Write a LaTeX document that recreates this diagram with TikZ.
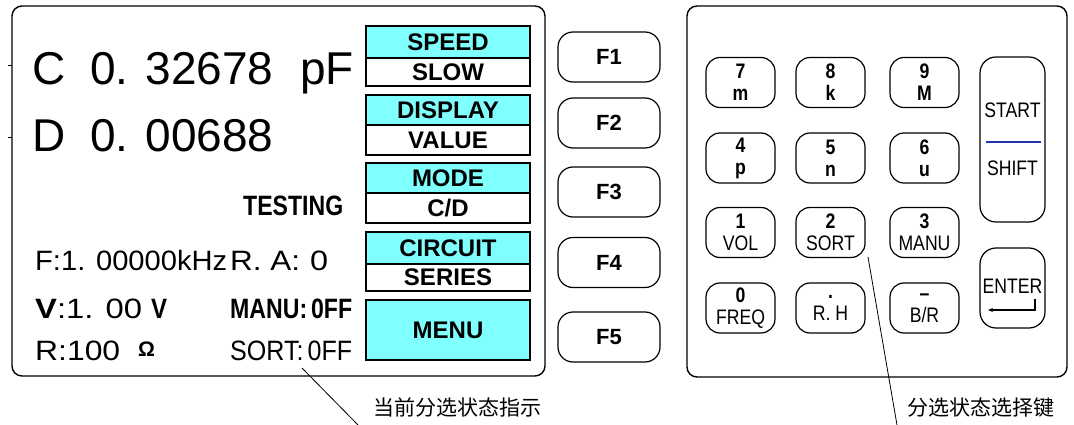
\documentclass[tikz,border=0pt]{standalone}
\usepackage{graphicx}
\usepackage{fontspec}
\setmainfont{Liberation Sans}
\newfontfamily\cjk{Noto Sans CJK SC}
\newfontfamily\lcdf[FakeStretch=0.84]{Liberation Sans}
\usetikzlibrary{arrows.meta}
\definecolor{lcd}{RGB}{128,255,255}
\definecolor{navy}{RGB}{40,50,170}
\newcommand\fw[2]{\resizebox{#1}{\height}{#2}}
\begin{document}
\begin{tikzpicture}[x=1pt,y=-1pt,
 panel/.style={draw, line width=1.4pt, rounded corners=10pt},
 fkey/.style={draw, line width=1.2pt, rounded corners=15pt, minimum width=102pt, minimum height=50pt, inner sep=0pt, font=\fontsize{22}{24}\selectfont\bfseries},
 nkey/.style={draw, line width=1.2pt, rounded corners=14pt, minimum width=69pt, minimum height=50pt, inner sep=0pt, align=center, font=\lcdf\fontsize{21}{22}\selectfont},
 hdr/.style={draw, line width=1.3pt, fill=lcd, minimum width=164pt, inner sep=0pt, font=\fontsize{24}{26}\selectfont\bfseries},
 val/.style={draw, line width=1.3pt, fill=white, minimum width=164pt, inner sep=0pt, font=\fontsize{24}{26}\selectfont\bfseries},
 lbl/.style={anchor=base west, inner sep=0pt},
 big/.style={lbl, font=\fontsize{46}{46}\selectfont},
 mid/.style={lbl, font=\fontsize{28}{28}\selectfont},
 lead/.style={line width=0.8pt},
 cn/.style={anchor=west, inner sep=0pt, font=\cjk\fontsize{21}{21}\selectfont}
]
\useasboundingbox (0,0) rectangle (1074,425);
% panels
\draw[panel] (12,6) rectangle (545,376);
\draw[panel] (687,6) rectangle (1067,377);
\draw[line width=0.8pt] (8,65) -- (12,65);
\draw[line width=0.8pt] (8,137) -- (12,137);
% main readings
\node[big] (cl) at (32,85) {C};
\node[big] (cv) at (90,85) {0. 32678};
\node[big] (cu) at (300,85) {pF};
\node[big] (dl) at (32,152) {D};
\node[big] (dv) at (90,152) {0. 00688};
% lower texts
\node[mid] (test) at (243,215) {\fw{100pt}{\bfseries TESTING}};
\node[mid] (freq) at (35,270) {\fw{192pt}{F:1. 00000kHz}};
\node[mid] (ra) at (230,270) {\fw{70pt}{R. A:}};
\node[mid] (raz) at (310,270) {\fw{18pt}{0}};
\node[mid] (volt) at (35,318) {\fw{107pt}{\textbf{V}:1. 00}};
\node[mid] (voltu) at (151,318) {\fw{16pt}{\bfseries V}};
\node[mid] (manu) at (230,318) {\fw{122pt}{\bfseries MANU:\,0FF}};
\node[mid] (rng) at (35,360) {\fw{85pt}{R:100}};
\node[lbl, font=\fontsize{21}{21}\selectfont\bfseries] (ohm) at (138,356) {Ω};
\node[mid] (sort) at (230,360) {\fw{122pt}{SORT:\,0FF}};
% soft key menu boxes
\node[hdr, minimum height=32pt] (speed) at (448,42) {SPEED};
\node[val, minimum height=28pt] (slow) at (448,72) {SLOW};
\node[hdr, minimum height=30pt] (disp) at (448,110) {DISPLAY};
\node[val, minimum height=30pt] (value) at (448,140) {VALUE};
\node[hdr, minimum height=30pt] (mode) at (448,178) {MODE};
\node[val, minimum height=30pt] (cd) at (448,208) {C/D};
\node[hdr, minimum height=32pt] (circ) at (448,248) {CIRCUIT};
\node[val, minimum height=27pt] (series) at (448,277.5) {SERIES};
\node[hdr, minimum height=60pt] (menu) at (448,330) {MENU};
% F keys
\node[fkey] (f1) at (609,57) {F1};
\node[fkey] (f2) at (609,123) {F2};
\node[fkey] (f3) at (609,192) {F3};
\node[fkey] (f4) at (609,262.5) {F4};
\node[fkey] (f5) at (609,337) {F5};
% keypad
\node[nkey] (k7) at (740.5,82.5) {\bfseries 7\\\bfseries m};
\node[nkey] (k8) at (830.5,82.5) {\bfseries 8\\\bfseries k};
\node[nkey] (k9) at (924.5,82.5) {\bfseries 9\\\bfseries M};
\node[nkey] (k4) at (740.5,158) {\bfseries 4\\\bfseries p};
\node[nkey] (k5) at (830.5,158) {\bfseries 5\\\bfseries n};
\node[nkey] (k6) at (924.5,158) {\bfseries 6\\\bfseries u};
\node[nkey] (k1) at (740.5,232.5) {\bfseries 1\\VOL};
\node[nkey] (k2) at (830.5,232.5) {\bfseries 2\\SORT};
\node[nkey] (k3) at (924.5,232.5) {\bfseries 3\\MANU};
\node[nkey] (k0) at (740.5,308) {\bfseries 0\\FREQ};
\node[nkey] (kdot) at (830.5,308) {\bfseries .\\R. H};
\node[nkey] (kneg) at (924.5,308) {\bfseries –\\B/R};
\node[draw, line width=1.2pt, rounded corners=16pt, minimum width=65pt, minimum height=165pt, inner sep=0pt] (start) at (1012.5,139.5) {};
\node[inner sep=0pt, font=\lcdf\fontsize{21}{21}\selectfont] (starttxt) at (1012.5,110) {START};
\node[inner sep=0pt, font=\lcdf\fontsize{21}{21}\selectfont] (shifttxt) at (1012.5,168) {SHIFT};
\draw[navy, line width=1.2pt] ([xshift=7pt]start.west |- 0,142) -- ([xshift=-5pt]start.east |- 0,142);
\node[draw, line width=1.2pt, rounded corners=16pt, minimum width=65pt, minimum height=80pt, inner sep=0pt] (enter) at (1012.5,288) {};
\node[inner sep=0pt, font=\lcdf\fontsize{21}{21}\selectfont] (entertxt) at (1012.5,286) {ENTER};
\coordinate (ea) at (1035,299);
\coordinate (eb) at (1035,310);
\coordinate (ec) at (988,310);
\draw[line width=2pt, -{Stealth[length=5pt,width=4pt]}] (ea) -- (eb) -- (ec);
% annotations
\coordinate (s1) at (302,368);
\coordinate (s2) at (358,425);
\draw[lead] (s1) -- (s2);
\node[cn] (ann1) at (373,407) {当前分选状态指示};
\coordinate (t1) at (868,257);
\coordinate (t2) at (897,425);
\draw[lead] (t1) -- (t2);
\node[cn] (ann2) at (907,408) {分选状态选择键};
\end{tikzpicture}
\end{document}
